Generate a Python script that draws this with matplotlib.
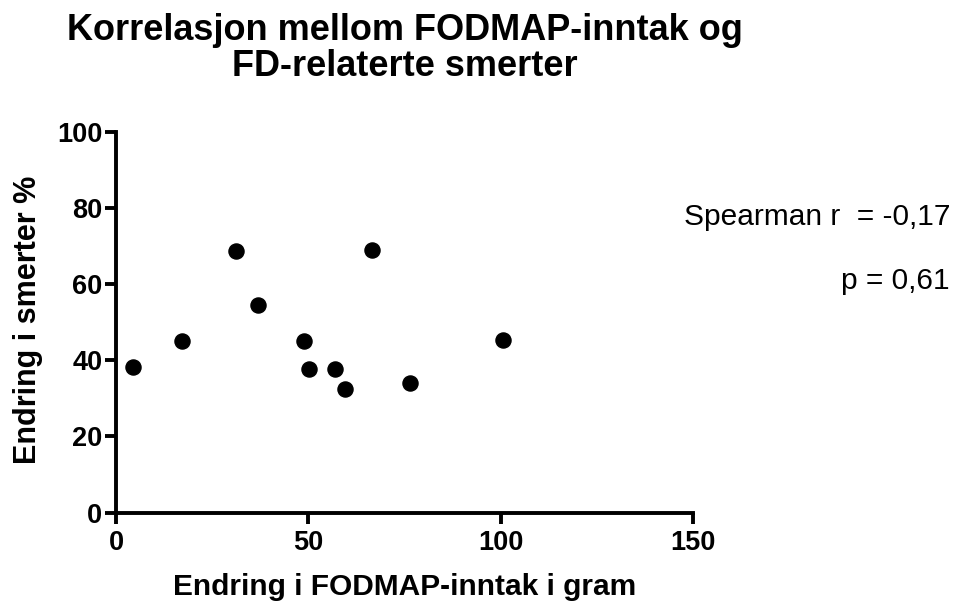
import matplotlib
matplotlib.use('Agg')
import matplotlib.pyplot as plt

plt.rcParams['font.family'] = ['Liberation Sans', 'DejaVu Sans']

# change in FODMAP intake (g) vs change in pain (%)
fodmap_change = [4.5, 17.2, 31.3, 36.9, 48.9, 50.1, 56.8, 59.4, 66.5, 76.5, 100.5]
pain_change = [38.2, 45.0, 68.6, 54.4, 45.0, 37.7, 37.7, 32.5, 69.0, 34.0, 45.2]

x_ticks = [0, 50, 100, 150]
y_ticks = [0, 20, 40, 60, 80, 100]
spearman_r = '-0,17'
p_value = '0,61'

W, H = 965, 603
fig = plt.figure(figsize=(W / 100, H / 100), dpi=100)
ax = fig.add_axes([0.1202, 0.1498, 0.598, 0.632])

ax.scatter(fodmap_change, pain_change, s=118, color='black', zorder=3, clip_on=False)

ax.set_xlim(0, 150)
ax.set_ylim(0, 100)
ax.set_xticks(x_ticks)
ax.set_yticks(y_ticks)

for side in ['top', 'right']:
    ax.spines[side].set_visible(False)
for side in ['left', 'bottom']:
    ax.spines[side].set_linewidth(2.8)
    ax.spines[side].set_capstyle('projecting')
ax.tick_params(width=2.8, length=7.8, labelsize=19.5, direction='out')
ax.tick_params(axis='x', pad=5)
ax.tick_params(axis='y', pad=2)
for lab in ax.get_xticklabels() + ax.get_yticklabels():
    lab.set_fontweight('bold')

ax.set_xlabel('Endring i FODMAP-inntak i gram', fontsize=21.5, fontweight='bold', va='baseline')
ax.set_ylabel('Endring i smerter %', fontsize=22, fontweight='bold', va='baseline')
ax.xaxis.set_label_coords(0.5, -0.216)
ax.yaxis.set_label_coords(-0.1386, 0.5055)

# two-line title, each line placed on its own baseline
fig.text(0.42, 1 - 39.5 / H, 'Korrelasjon mellom FODMAP-inntak og',
         ha='center', va='baseline', fontsize=26, fontweight='bold')
fig.text(0.42, 1 - 76.5 / H, 'FD-relaterte smerter',
         ha='center', va='baseline', fontsize=26, fontweight='bold')

fig.text(950 / W, 1 - 225 / H, f'Spearman r  = {spearman_r}', ha='right', va='baseline', fontsize=21.5)
fig.text(950 / W, 1 - 289 / H, f'p = {p_value}', ha='right', va='baseline', fontsize=21.5)

fig.savefig('out.png', dpi=100)
